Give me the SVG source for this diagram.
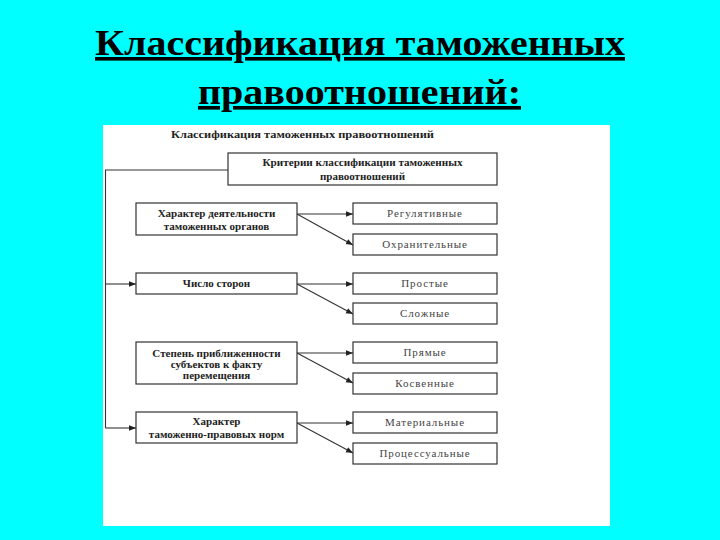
<svg xmlns="http://www.w3.org/2000/svg" width="720" height="540" viewBox="0 0 720 540">
<style>
.bg{fill:#00ffff}
.panel{fill:#ffffff}
.title{font-family:"Liberation Serif","Times New Roman",serif;font-weight:bold;font-size:36px;fill:#000;text-decoration:underline}
.head{font-family:"Liberation Serif","Times New Roman",serif;font-weight:bold;font-size:10px;fill:#222}
.box{fill:#fff;stroke:#333;stroke-width:1.2}
.tb{font-family:"Liberation Serif","Times New Roman",serif;font-weight:bold;font-size:11px;fill:#222;text-anchor:middle}
.tn{font-family:"Liberation Serif","Times New Roman",serif;font-size:11px;letter-spacing:0.9px;fill:#444;text-anchor:middle}
.ln{fill:none;stroke:#333;stroke-width:1.1}
</style>
<defs>
<marker id="ah" viewBox="0 0 10 10" refX="10" refY="5" markerWidth="7" markerHeight="7" markerUnits="userSpaceOnUse" orient="auto">
<path d="M0,1 L10,5 L0,9 z" fill="#222"/>
</marker>
</defs>
<rect class="bg" x="0" y="0" width="720" height="540"/>
<g id="title">
<text class="title" x="95" y="55" textLength="530" lengthAdjust="spacingAndGlyphs">Классификация таможенных</text>
<text class="title" x="198" y="104" textLength="323" lengthAdjust="spacingAndGlyphs">правоотношений:</text>
</g>
<rect class="panel" x="103" y="125" width="507" height="401"/>
<text class="head" x="171" y="138" textLength="263" lengthAdjust="spacingAndGlyphs">Классификация таможенных правоотношений</text>
<g id="connectors">
<path class="ln" d="M228,170 H105.5 V428"/>
<path class="ln" d="M105.5,284 H136" marker-end="url(#ah)"/>
<path class="ln" d="M105.5,428 H136" marker-end="url(#ah)"/>
<path class="ln" d="M297,214 H353" marker-end="url(#ah)"/>
<path class="ln" d="M297,214 L353,245" marker-end="url(#ah)"/>
<path class="ln" d="M297,284 H353" marker-end="url(#ah)"/>
<path class="ln" d="M297,284 L353,314" marker-end="url(#ah)"/>
<path class="ln" d="M297,353 H353" marker-end="url(#ah)"/>
<path class="ln" d="M297,353 L353,383" marker-end="url(#ah)"/>
<path class="ln" d="M297,423 H353" marker-end="url(#ah)"/>
<path class="ln" d="M297,423 L353,453" marker-end="url(#ah)"/>
</g>
<g id="criteria">
<rect class="box" x="228" y="153" width="269" height="32"/>
<text class="tb" x="362.5" y="166" textLength="200" lengthAdjust="spacingAndGlyphs">Критерии классификации таможенных</text>
<text class="tb" x="362.5" y="180">правоотношений</text>
</g>
<g id="activity">
<rect class="box" x="136" y="203" width="161" height="32"/>
<text class="tb" x="216.5" y="217">Характер деятельности</text>
<text class="tb" x="216.5" y="230">таможенных органов</text>
</g>
<g id="regulative">
<rect class="box" x="353" y="203" width="144" height="21"/>
<text class="tn" x="425" y="217">Регулятивные</text>
</g>
<g id="protective">
<rect class="box" x="353" y="234" width="144" height="21"/>
<text class="tn" x="425" y="248">Охранительные</text>
</g>
<g id="parties">
<rect class="box" x="136" y="273" width="161" height="21"/>
<text class="tb" x="216.5" y="287">Число сторон</text>
</g>
<g id="simple">
<rect class="box" x="353" y="273" width="144" height="21"/>
<text class="tn" x="425" y="287">Простые</text>
</g>
<g id="complex">
<rect class="box" x="353" y="303" width="144" height="21"/>
<text class="tn" x="425" y="317">Сложные</text>
</g>
<g id="proximity">
<rect class="box" x="136" y="342" width="161" height="42"/>
<text class="tb" x="216.5" y="357">Степень приближенности</text>
<text class="tb" x="216.5" y="368">субъектов к факту</text>
<text class="tb" x="216.5" y="379">перемещения</text>
</g>
<g id="direct">
<rect class="box" x="353" y="342" width="144" height="21"/>
<text class="tn" x="425" y="356">Прямые</text>
</g>
<g id="indirect">
<rect class="box" x="353" y="373" width="144" height="21"/>
<text class="tn" x="425" y="387">Косвенные</text>
</g>
<g id="norms">
<rect class="box" x="136" y="412" width="161" height="31"/>
<text class="tb" x="216.5" y="425">Характер</text>
<text class="tb" x="216.5" y="438">таможенно-правовых норм</text>
</g>
<g id="material">
<rect class="box" x="353" y="412" width="144" height="21"/>
<text class="tn" x="425" y="426">Материальные</text>
</g>
<g id="procedural">
<rect class="box" x="353" y="443" width="144" height="21"/>
<text class="tn" x="425" y="457">Процессуальные</text>
</g>
</svg>
